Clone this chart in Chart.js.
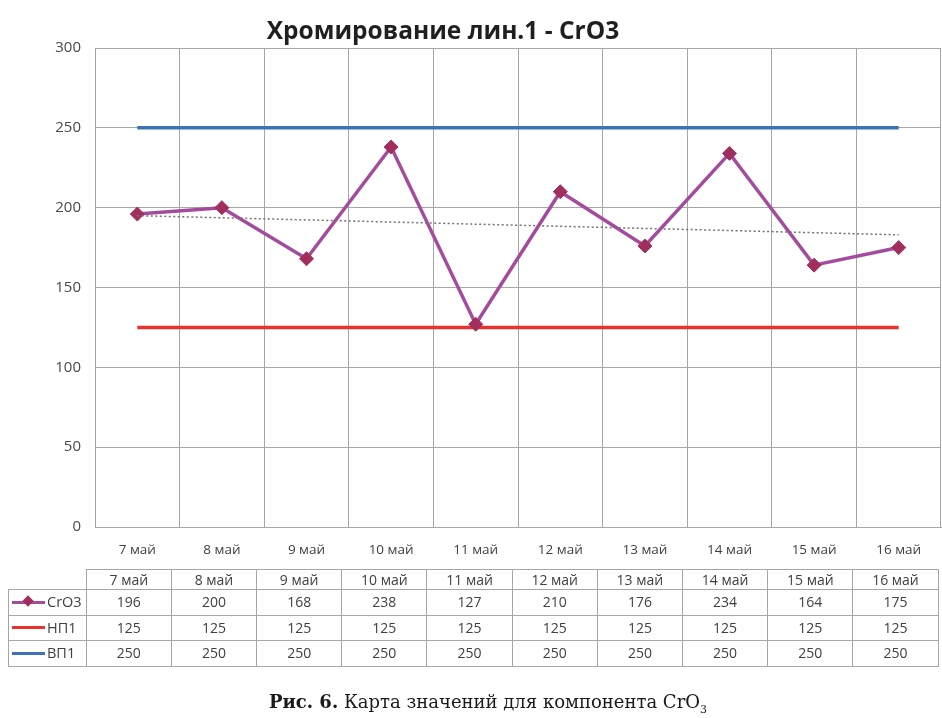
<!DOCTYPE html>
<html lang="ru">
<head>
<meta charset="utf-8">
<script src="https://cdn.jsdelivr.net/npm/chart.js@4"></script>
<style>
  html, body { margin: 0; padding: 0; background: #fff; }
  #wrap { position: relative; width: 942px; height: 718px; overflow: hidden; }
  #chart { position: absolute; left: 0; top: 0; }
  #dtable {
    position: absolute; left: 8px; top: 569px;
    border-collapse: collapse; table-layout: fixed;
    font-family: "Open Sans", sans-serif; font-size: 14px; color: #404040;
  }
  #dtable td { border: 1px solid #a6a6a6; text-align: center; padding: 0; white-space: nowrap; }
  #dtable tr.hdr td { height: 19px; line-height: 19px; }
  #dtable tr.row td { height: 24.5px; line-height: 24px; }
  #dtable td.blank { border: none; border-bottom: 1px solid #a6a6a6; }
  #dtable td.leg { text-align: left; padding-left: 3px; font-size: 14.5px; }
  .sw { display: inline-block; position: relative; width: 33px; height: 3px; vertical-align: middle; margin-right: 2px; top: -1px; }
  .sw i { position: absolute; left: 12px; top: -3.5px; width: 8px; height: 8px; transform: rotate(45deg); }
  #caption {
    position: absolute; left: 0; width: 976px; top: 691px; text-align: center;
    font-family: "DejaVu Serif", serif; font-size: 18px; color: #1a1a1a;
  }
  #caption sub { font-size: 11px; }
</style>
</head>
<body>
<div id="wrap">
  <canvas id="chart" width="942" height="718"></canvas>
  <table id="dtable"></table>
  <div id="caption"><b>Рис. 6.</b> Карта значений для компонента CrO<sub>3</sub></div>
</div>
<script>
// ---- data ----
const titleText = 'Хромирование лин.1 - CrO3';
const categories = ['7 май', '8 май', '9 май', '10 май', '11 май', '12 май', '13 май', '14 май', '15 май', '16 май'];
const cro3 = [196, 200, 168, 238, 127, 210, 176, 234, 164, 175];
const np1  = [125, 125, 125, 125, 125, 125, 125, 125, 125, 125];
const vp1  = [250, 250, 250, 250, 250, 250, 250, 250, 250, 250];
// linear trend of CrO3 (endpoints)
const trend = [195, null, null, null, null, null, null, null, null, 183];
const yTicks = [0, 50, 100, 150, 200, 250, 300];

const seriesNames = ['CrO3', 'НП1', 'ВП1'];
const colCro3 = '#a44b9e', colCro3Pt = '#a12f5e', colNp = '#e8322b', colVp = '#3d72b6';

const titlePlugin = {
  id: 'titlePlugin',
  afterDraw(chart) {
    const ctx = chart.ctx;
    ctx.save();
    ctx.font = 'bold 24.5px "Open Sans", sans-serif';
    ctx.fillStyle = '#1f1f1f';
    ctx.textAlign = 'center';
    ctx.textBaseline = 'middle';
    ctx.fillText(titleText, 443, 32);
    ctx.restore();
  }
};

new Chart(document.getElementById('chart'), {
  type: 'line',
  data: {
    labels: categories,
    datasets: [
      { label: 'тренд', data: trend, borderColor: '#737373', borderWidth: 1.5, borderDash: [2, 2.5],
        pointRadius: 0, spanGaps: true, order: 0 },
      { label: seriesNames[0], data: cro3, borderColor: colCro3, borderWidth: 3.5,
        pointStyle: 'rectRot', pointRadius: 7, pointBackgroundColor: colCro3Pt, pointBorderColor: colCro3Pt,
        pointBorderWidth: 1, tension: 0, order: 1 },
      { label: seriesNames[1], data: np1, borderColor: colNp, borderWidth: 3.5, pointRadius: 0, order: 2 },
      { label: seriesNames[2], data: vp1, borderColor: colVp, borderWidth: 3.5, pointRadius: 0, order: 3 }
    ]
  },
  options: {
    responsive: false,
    animation: false,
    layout: { autoPadding: false, padding: { top: 48, bottom: 150, left: 0, right: 1 } },
    plugins: { legend: { display: false }, title: { display: false }, tooltip: { enabled: false } },
    scales: {
      x: {
        offset: true,
        grid: { offset: true, color: '#a6a6a6', lineWidth: 1, drawTicks: false },
        border: { color: '#a6a6a6' },
        ticks: { color: '#404040', font: { family: '"Open Sans", sans-serif', size: 13.5 }, padding: 15, maxRotation: 0 },
        afterFit(s) { s.height = 41; s.paddingLeft = 0; s.paddingRight = 0; }
      },
      y: {
        min: 0, max: 300,
        afterBuildTicks(s) { s.ticks = yTicks.map(v => ({ value: v })); },
        grid: { color: '#a6a6a6', lineWidth: 1, drawTicks: false },
        border: { color: '#a6a6a6' },
        ticks: { color: '#4a4a4a', font: { family: '"Open Sans", sans-serif', size: 15 }, padding: 14 },
        afterFit(s) { s.width = 95; }
      }
    }
  },
  plugins: [titlePlugin]
});

// ---- data table (built from the same arrays) ----
const tbl = document.getElementById('dtable');
const colg = document.createElement('colgroup');
let c = document.createElement('col'); c.style.width = '77.7px'; colg.appendChild(c);
categories.forEach(() => { const cc = document.createElement('col'); cc.style.width = '85.2px'; colg.appendChild(cc); });
tbl.appendChild(colg);
let tr = document.createElement('tr'); tr.className = 'hdr';
let td = document.createElement('td'); td.className = 'blank'; tr.appendChild(td);
categories.forEach(l => { const t = document.createElement('td'); t.textContent = l; tr.appendChild(t); });
tbl.appendChild(tr);
[[cro3, colCro3, true], [np1, colNp, false], [vp1, colVp, false]].forEach(([vals, col, marker], i) => {
  const r = document.createElement('tr'); r.className = 'row';
  const lc = document.createElement('td'); lc.className = 'leg';
  const sw = document.createElement('span'); sw.className = 'sw'; sw.style.background = col;
  if (marker) { const m = document.createElement('i'); m.style.background = colCro3Pt; sw.appendChild(m); }
  lc.appendChild(sw); lc.appendChild(document.createTextNode(seriesNames[i]));
  r.appendChild(lc);
  vals.forEach(v => { const t = document.createElement('td'); t.textContent = v; r.appendChild(t); });
  tbl.appendChild(r);
});
</script>
</body>
</html>
